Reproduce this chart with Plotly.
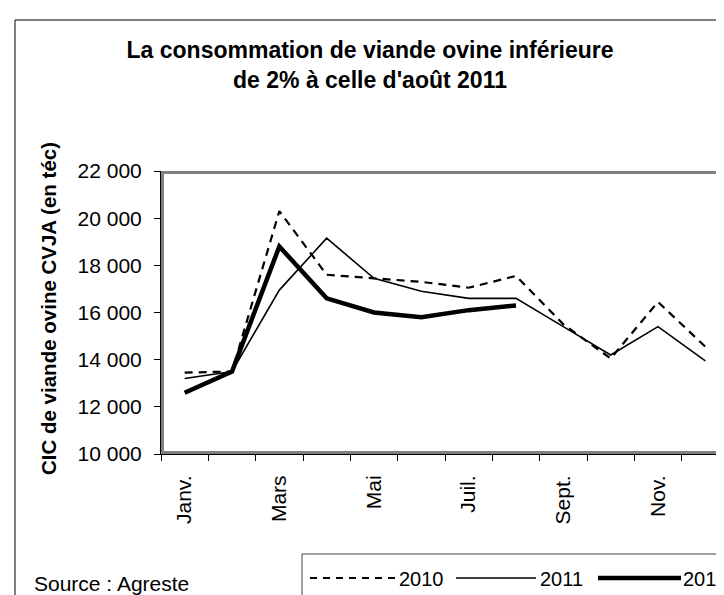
import plotly.graph_objects as go

months = ["Janv.", "Févr.", "Mars", "Avr.", "Mai", "Juin", "Juil.", "Août", "Sept.", "Oct.", "Nov.", "Déc."]
v2010 = [13450, 13500, 20300, 17600, 17450, 17300, 17050, 17550, 15500, 14050, 16450, 14550]
v2011 = [13200, 13500, 16950, 19150, 17450, 16900, 16600, 16600, 15400, 14200, 15400, 13950]
v2012 = [12600, 13500, 18800, 16600, 16000, 15800, 16100, 16300]
y_ticks = [10000, 12000, 14000, 16000, 18000, 20000, 22000]
y_ticktext = ["10 000", "12 000", "14 000", "16 000", "18 000", "20 000", "22 000"]
shown_months = ["Janv.", "Mars", "Mai", "Juil.", "Sept.", "Nov."]

W, H = 724, 595
L, R, T, B = 153, 3, 163, 149
PW, PH = W - L - R, H - T - B
FONT = "Liberation Sans, Arial, sans-serif"

def px(xp):
    return (xp - L) / PW

def py(yp):
    return (H - B - yp) / PH

idx = list(range(len(months)))

fig = go.Figure()
fig.add_trace(go.Scatter(x=idx, y=v2010, mode="lines", name="2010",
                         line=dict(color="black", width=2.2, dash="8px,6px")))
fig.add_trace(go.Scatter(x=idx, y=v2011, mode="lines", name="2011",
                         line=dict(color="black", width=1.6)))
fig.add_trace(go.Scatter(x=idx[:len(v2012)], y=v2012, mode="lines", name="2012",
                         line=dict(color="black", width=4.5)))

shapes = []
# outer chart border
shapes.append(dict(type="rect", xref="paper", yref="paper",
                   x0=px(7), x1=px(740), y0=py(12), y1=py(620),
                   line=dict(color="black", width=1), layer="below"))
# plot area gray border
shapes.append(dict(type="rect", xref="paper", yref="paper",
                   x0=px(154.5), x1=px(720), y0=py(164.5), y1=py(444.5),
                   line=dict(color="#808080", width=3), layer="below"))
# legend box
shapes.append(dict(type="rect", xref="paper", yref="paper",
                   x0=px(294), x1=px(740), y0=py(546), y1=py(593),
                   line=dict(color="#404040", width=1)))
leg_y = 570
shapes.append(dict(type="line", xref="paper", yref="paper", x0=px(302), x1=px(388),
                   y0=py(leg_y), y1=py(leg_y), line=dict(color="black", width=2.2, dash="7px,6px")))
shapes.append(dict(type="line", xref="paper", yref="paper", x0=px(448), x1=px(528),
                   y0=py(leg_y), y1=py(leg_y), line=dict(color="black", width=1.6)))
shapes.append(dict(type="line", xref="paper", yref="paper", x0=px(590), x1=px(673),
                   y0=py(leg_y), y1=py(leg_y), line=dict(color="black", width=4.5)))

annotations = []
for name, xl in [("2010", 389), ("2011", 530), ("2012", 673)]:
    annotations.append(dict(text=name, xref="paper", yref="paper", x=px(xl), y=py(leg_y + 1),
                            xanchor="left", yanchor="middle", showarrow=False,
                            font=dict(family=FONT, size=20, color="black")))
annotations.append(dict(text="Source : Agreste", xref="paper", yref="paper", x=px(24), y=py(575),
                        xanchor="left", yanchor="middle", showarrow=False,
                        font=dict(family=FONT, size=21, color="black")))
annotations.append(dict(text="CIC de viande ovine CVJA (en téc)", xref="paper", yref="paper",
                        x=px(40), y=py(301), xanchor="center", yanchor="middle",
                        textangle=-90, showarrow=False,
                        font=dict(family=FONT, size=20.5, color="black", weight="bold")))

fig.update_layout(
    width=W, height=H,
    margin=dict(l=L, r=R, t=T, b=B),
    paper_bgcolor="white", plot_bgcolor="white",
    showlegend=False,
    title=dict(text="La consommation de viande ovine inférieure<br>de 2% à celle d'août 2011",
               x=0.5, xanchor="center", xref="container",
               y=1 - 50 / H, yanchor="top", yref="container",
               font=dict(family=FONT, size=23, color="black", weight="bold")),
    shapes=shapes,
    annotations=annotations,
)
fig.update_xaxes(range=[-0.5, 11.5], showgrid=False, zeroline=False,
                 tickmode="array", tickvals=[months.index(m) for m in shown_months],
                 ticktext=shown_months, tickangle=-90, ticks="",
                 ticklabelstandoff=12,
                 tickfont=dict(family=FONT, size=21, color="black"),
                 showline=True, linecolor="black", linewidth=1,
                 minor=dict(tickmode="linear", tick0=-0.5, dtick=1, ticks="outside",
                            ticklen=6, tickcolor="black", tickwidth=1, showgrid=False))
fig.update_yaxes(range=[10000, 22000], showgrid=False, zeroline=False,
                 tickmode="array", tickvals=y_ticks, ticktext=y_ticktext,
                 ticks="outside", ticklen=6, tickcolor="black", tickwidth=1,
                 ticklabelstandoff=8,
                 tickfont=dict(family=FONT, size=21, color="black"),
                 showline=True, linecolor="black", linewidth=1)

fig.write_html("out.html")
